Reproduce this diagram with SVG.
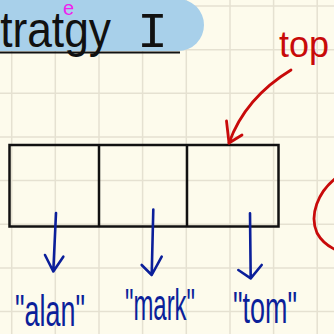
<svg xmlns="http://www.w3.org/2000/svg" width="334" height="334" viewBox="0 0 334 334">
  <defs>
    <style>
      .grid { stroke: #e5e1d1; stroke-width: 1.5; }
      .box { fill: none; stroke: #111; stroke-width: 2.5; }
      .blue { fill: none; stroke: #0b1f9a; stroke-width: 2.6; stroke-linecap: round; stroke-linejoin: round; }
      .red { fill: none; stroke: #c80a0a; stroke-width: 2.8; stroke-linecap: round; stroke-linejoin: round; }
      .lbl { font-family: "Liberation Sans", "DejaVu Sans", sans-serif; font-size: 44px; fill: #0b1f9a; }
      .title { font-family: "Liberation Sans", "DejaVu Sans", sans-serif; font-size: 50px; fill: #111; }
    </style>
  </defs>
  <rect x="0" y="0" width="334" height="334" fill="#fdfbec"/>
  <g id="grid">
    <path class="grid" d="M11.7,0V334M55.3,0V334M99,0V334M142.6,0V334M186.3,0V334M230,0V334M273.6,0V334M317.2,0V334M0,6H334M0,49.7H334M0,93.3H334M0,137H334M0,180.6H334M0,224.3H334M0,268H334M0,311.6H334"/>
  </g>
  <g id="title">
    <rect x="-40" y="-1" width="244" height="52" rx="26" fill="#a8d0ea"/>
    <line x1="0" y1="52.5" x2="180" y2="52.5" stroke="#111" stroke-width="2"/>
    <text class="title" x="-22" y="47" textLength="133" lengthAdjust="spacingAndGlyphs">stratgy</text>
    <text x="137" y="47" font-family="Liberation Mono, monospace" font-size="50" fill="#111" textLength="31" lengthAdjust="spacingAndGlyphs">I</text>
    <text x="63" y="15" font-family="Liberation Sans, sans-serif" font-size="20" fill="#ee22ee">e</text>
  </g>
  <g id="array">
    <rect class="box" x="9.5" y="145" width="269" height="81.5"/>
    <line class="box" x1="99" y1="145" x2="99" y2="226.5"/>
    <line class="box" x1="187" y1="145" x2="187" y2="226.5"/>
  </g>
  <g id="top-label">
    <text x="279" y="57" font-family="Liberation Sans, sans-serif" font-size="36" fill="#c80a0a">top</text>
  </g>
  <g id="connectors">
    <path class="red" d="M291,70 Q245,98 229,143"/>
    <path class="red" d="M226.5,121 L229,143 L242,135"/>
    <path class="red" d="M336,178 C318,192 309,215 317,233 Q323,244 336,250"/>
    <path class="blue" d="M56,213 L53.3,271.5 M45,255 L53.3,271.5 L63.3,256.7"/>
    <path class="blue" d="M153.3,209.5 L151.7,275 M141.7,265 L151.7,275 L161.7,256.7"/>
    <path class="blue" d="M250,213.3 L250.7,278.3 M238.3,270 L250.7,278.3 L261.7,265"/>
  </g>
  <g id="alan">
    <text class="lbl" x="15" y="326" textLength="70" lengthAdjust="spacingAndGlyphs">"alan"</text>
  </g>
  <g id="mark">
    <text class="lbl" x="125" y="320" textLength="70" lengthAdjust="spacingAndGlyphs">"mark"</text>
  </g>
  <g id="tom">
    <text class="lbl" x="233" y="323" textLength="64" lengthAdjust="spacingAndGlyphs">"tom"</text>
  </g>
</svg>
